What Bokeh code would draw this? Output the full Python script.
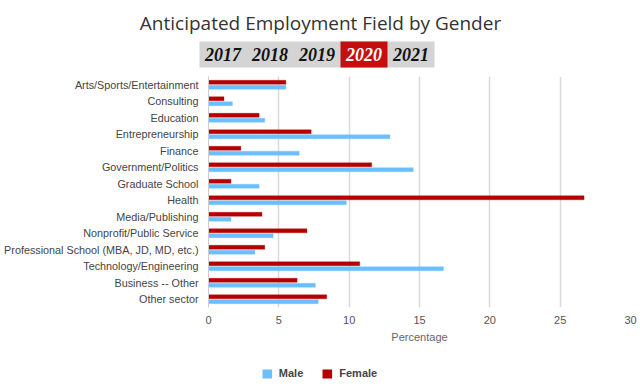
from bokeh.plotting import figure
from bokeh.models import ColumnDataSource, FactorRange, Range1d, Legend, LegendItem
from bokeh.transform import dodge
from bokeh.core.properties import value
from bokeh.embed import file_html
from bokeh.resources import INLINE

title_text = "Anticipated Employment Field by Gender"
years = ["2017", "2018", "2019", "2020", "2021"]
selected_year = "2020"

categories = [
    "Arts/Sports/Entertainment", "Consulting", "Education", "Entrepreneurship",
    "Finance", "Government/Politics", "Graduate School", "Health",
    "Media/Publishing", "Nonprofit/Public Service",
    "Professional School (MBA, JD, MD, etc.)", "Technology/Engineering",
    "Business -- Other", "Other sector",
]
female = [5.5, 1.1, 3.6, 7.3, 2.3, 11.6, 1.6, 26.7, 3.8, 7.0, 4.0, 10.75, 6.3, 8.4]
male = [5.5, 1.7, 4.0, 12.9, 6.45, 14.55, 3.6, 9.8, 1.6, 4.6, 3.3, 16.7, 7.6, 7.8]
x_ticks = [0, 5, 10, 15, 20, 25, 30]
x_label = "Percentage"

MALE_C = "#6cbfff"
FEMALE_C = "#b40000"
W = 638
HH = 75

# ---------- header ----------
header = figure(width=W, height=HH, x_range=Range1d(0, W), y_range=Range1d(0, HH),
                toolbar_location=None, output_backend="svg", min_border=0)
header.axis.visible = False
header.grid.visible = False
header.outline_line_color = None

header.text(x=[320], y=[HH - 22], text=[title_text], text_font=value("Open Sans"),
            text_font_size="19px", text_color="#333333", text_align="center",
            text_baseline="middle")

box_left = 199
btn_w = 47
box_top = HH - 41
box_bot = HH - 67
header.quad(left=[box_left], right=[box_left + btn_w * len(years)], bottom=[box_bot], top=[box_top],
            fill_color="#d4d4d4", line_color=None)
sel = years.index(selected_year)
header.quad(left=[box_left + btn_w * sel], right=[box_left + btn_w * (sel + 1)],
            bottom=[box_bot], top=[box_top], fill_color="#c40f0f", line_color=None)
yx = [box_left + btn_w * (i + 0.5) for i in range(len(years))]
ycol = ["#ffffff" if y == selected_year else "#111111" for y in years]
header.text(x=yx, y=[(box_top + box_bot) / 2] * len(years), text=years, text_color=ycol,
            text_font=value("Liberation Serif"), text_font_style="bold italic",
            text_font_size="18px", text_align="center", text_baseline="middle")

# ---------- main chart ----------
src = ColumnDataSource(dict(cat=categories, female=female, male=male))
p = figure(width=W, height=270, y_range=FactorRange(factors=list(reversed(categories))),
           x_range=Range1d(0, 30), toolbar_location=None, output_backend="svg",
           min_border_left=208, min_border_right=8, min_border_top=1, min_border_bottom=36)
p.outline_line_color = None

p.hbar(y=dodge("cat", 0.15, range=p.y_range), right="female", left=0, height=0.24,
       source=src, fill_color=FEMALE_C, line_color=FEMALE_C, line_alpha=0.35, line_width=1)
p.hbar(y=dodge("cat", -0.15, range=p.y_range), right="male", left=0, height=0.24,
       source=src, fill_color=MALE_C, line_color=MALE_C, line_alpha=0.35, line_width=1)

p.ygrid.visible = False
p.xgrid.grid_line_color = "#dadada"
p.xgrid.grid_line_width = 1.5
p.xaxis.ticker = x_ticks
p.xaxis.axis_line_color = None
p.xaxis.major_tick_line_color = None
p.xaxis.major_tick_out = 0
p.xaxis.major_tick_in = 0
p.xaxis.major_label_standoff = 8
p.xaxis.major_label_text_font = "Liberation Sans"
p.xaxis.major_label_text_font_size = "11px"
p.xaxis.major_label_text_color = "#555555"
p.xaxis.axis_label = x_label
p.xaxis.axis_label_standoff = 4
p.xaxis.axis_label_text_font = "Liberation Sans"
p.xaxis.axis_label_text_font_size = "11px"
p.xaxis.axis_label_text_font_style = "normal"
p.xaxis.axis_label_text_color = "#666666"

p.yaxis.axis_line_color = "#cccccc"
p.yaxis.major_tick_line_color = None
p.yaxis.major_tick_out = 0
p.yaxis.major_tick_in = 0
p.yaxis.major_label_standoff = 10
p.yaxis.major_label_text_font = "Liberation Sans"
p.yaxis.major_label_text_font_size = "10.8px"
p.yaxis.major_label_text_color = "#444444"

# ---------- footer legend ----------
footer = figure(width=W, height=43, x_range=Range1d(0, 1), y_range=Range1d(0, 1),
                toolbar_location=None, output_backend="svg", min_border=0)
footer.axis.visible = False
footer.grid.visible = False
footer.outline_line_color = None
offscreen = ColumnDataSource(dict(y=[-5], right=[1]))
rm = footer.hbar(y="y", right="right", left=0, height=1, source=offscreen,
                 fill_color=MALE_C, line_color=None)
rf = footer.hbar(y="y", right="right", left=0, height=1, source=offscreen,
                 fill_color=FEMALE_C, line_color=None)
legend = Legend(items=[LegendItem(label="Male", renderers=[rm]),
                       LegendItem(label="Female", renderers=[rf])],
                orientation="horizontal", location="bottom_center",
                glyph_width=12, glyph_height=11, label_standoff=6, spacing=18,
                padding=0, margin=9, border_line_color=None, background_fill_alpha=0,
                label_text_font="Liberation Sans", label_text_font_size="11px",
                label_text_font_style="bold", label_text_color="#444444")
footer.add_layout(legend)

open("out.html", "w").write(file_html([header, p, footer], INLINE))
